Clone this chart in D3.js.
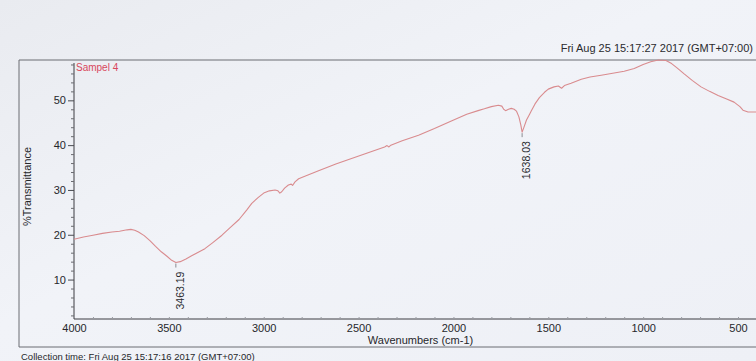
<!DOCTYPE html>
<html>
<head>
<meta charset="utf-8">
<script src="https://cdn.jsdelivr.net/npm/d3@7"></script>
<style>
  html, body { margin: 0; padding: 0; background: #eef0f5; overflow: hidden; }
  svg { display: block; font-family: "Liberation Sans", Arial, sans-serif; }
</style>
</head>
<body>
<div class="container"></div>
<script>
// spectrum (wavenumber cm-1, %T)
const wavenumbers = [4000, 3950, 3900, 3850, 3800, 3760, 3720, 3700, 3680, 3660, 3630, 3600, 3570, 3540, 3510, 3485,
  3463, 3440, 3410, 3380, 3340, 3310, 3270, 3220, 3180, 3130, 3090, 3063, 3030, 3000, 2970, 2940, 2925, 2915, 2905,
  2890, 2870, 2855, 2848, 2835, 2816, 2780, 2711, 2620, 2537, 2450, 2363, 2350, 2340, 2330, 2270, 2184, 2100, 2011,
  1930, 1870, 1837, 1800, 1763, 1745, 1735, 1725, 1710, 1695, 1680, 1668, 1655, 1645, 1638, 1630, 1615, 1600, 1590,
  1570, 1547, 1520, 1500, 1470, 1447, 1430, 1415, 1380, 1326, 1280, 1221, 1153, 1100, 1047, 1000, 960, 920, 880,
  850, 820, 784, 740, 695, 650, 605, 560, 521, 490, 474, 447, 420, 400];
const transmittance = [19.0, 19.5, 19.9, 20.3, 20.6, 20.8, 21.1, 21.2, 21.0, 20.6, 19.8, 18.7, 17.4, 16.2, 15.2, 14.3,
  13.8, 14.0, 14.6, 15.3, 16.2, 16.9, 18.2, 19.9, 21.5, 23.4, 25.5, 27.0, 28.3, 29.3, 29.8, 30.0, 29.8, 29.3, 29.6,
  30.4, 31.1, 31.3, 31.0, 31.8, 32.5, 33.1, 34.3, 35.8, 37.0, 38.3, 39.6, 39.9, 39.6, 40.0, 41.0, 42.2, 43.7, 45.4,
  46.9, 47.7, 48.1, 48.6, 48.9, 48.7, 48.0, 47.7, 48.0, 48.2, 48.0, 47.6, 46.3, 44.5, 42.9, 43.8, 45.6, 46.8, 47.6,
  49.2, 50.6, 51.8, 52.5, 53.0, 53.2, 52.7, 53.3, 53.8, 54.7, 55.2, 55.6, 56.1, 56.5, 57.1, 58.0, 58.6, 59.0, 58.9,
  58.2, 57.2, 55.9, 54.4, 53.0, 52.0, 51.1, 50.3, 49.6, 48.6, 47.8, 47.4, 47.4, 47.4];

const peakWaves = [3463.19, 1638.03];
const peakValues = [13.8, 42.9];

const xTicks = [4000, 3500, 3000, 2500, 2000, 1500, 1000, 500];
const yTicks = [10, 20, 30, 40, 50];

const width = 756;
const height = 361;
const plot = { left: 74, right: 757, top: 60, bottom: 319 };

const svg = d3.select('.container')
  .append('svg')
  .attr('width', width)
  .attr('height', height);

// paper
const grad = svg.append('defs').append('linearGradient')
  .attr('id', 'paper').attr('x1', 0).attr('y1', 0).attr('x2', 1).attr('y2', 1);
grad.append('stop').attr('offset', '0%').attr('stop-color', '#e9ebf0');
grad.append('stop').attr('offset', '45%').attr('stop-color', '#f1f3f8');
grad.append('stop').attr('offset', '100%').attr('stop-color', '#eef0f6');
svg.append('rect').attr('width', width).attr('height', height).attr('fill', 'url(#paper)');

const x = d3.scaleLinear().domain([4000, 400]).range([plot.left, plot.right]);
const y = d3.scaleLinear().domain([1.2, 59]).range([plot.bottom, plot.top]);

// outer frame of the printout
svg.append('path')
  .attr('d', `M${width + 5},60 H19 V347 H${width + 5}`)
  .attr('fill', 'none')
  .attr('stroke', '#6a6c72')
  .attr('stroke-width', 1);

// header date
svg.append('text')
  .attr('x', 753).attr('y', 52)
  .attr('text-anchor', 'end')
  .attr('font-size', 11).attr('fill', '#2a2a2e')
  .text('Fri Aug 25 15:17:27 2017 (GMT+07:00)');

// y axis, major + minor ticks
const yAxis = d3.axisLeft(y).tickValues(yTicks).tickSize(6).tickPadding(2);
const gy = svg.append('g').attr('transform', `translate(${plot.left},0)`).call(yAxis);
gy.select('.domain').attr('d', `M0,${plot.top + 3}V${plot.bottom}`).attr('stroke', '#3c3d42');
gy.selectAll('.tick line').attr('stroke', '#4a4b50');
gy.selectAll('.tick text').attr('font-size', 11).attr('fill', '#26272b').attr('font-family', '"Liberation Sans", Arial, sans-serif');
const gyMinor = svg.append('g').attr('transform', `translate(${plot.left},0)`)
  .call(d3.axisLeft(y).tickValues(d3.range(2, 59, 2).filter(v => v % 10 !== 0)).tickSize(3).tickFormat(''));
gyMinor.select('.domain').remove();
gyMinor.selectAll('.tick line').attr('stroke', '#6a6b70');

// x axis
const xAxis = d3.axisBottom(x).tickValues(xTicks).tickFormat(d3.format('d')).tickSize(0).tickPadding(5);
const gx = svg.append('g').attr('transform', `translate(0,${plot.bottom})`).call(xAxis);
gx.select('.domain').attr('d', `M${plot.left},0H${width + 5}`).attr('stroke', '#3c3d42');
gx.selectAll('.tick text').attr('font-size', 11).attr('fill', '#26272b').attr('font-family', '"Liberation Sans", Arial, sans-serif');
const gxMinor = svg.append('g').attr('transform', `translate(0,${plot.bottom})`)
  .call(d3.axisTop(x).tickValues(d3.range(3900, 400, -100)).tickSize(2).tickFormat(''));
gxMinor.select('.domain').remove();
gxMinor.selectAll('.tick line').attr('stroke', '#9a9ca2');

// axis titles
svg.append('text')
  .attr('x', (plot.left + plot.right) / 2 + 5).attr('y', 344)
  .attr('text-anchor', 'middle').attr('font-size', 11).attr('fill', '#26272b')
  .text('Wavenumbers (cm-1)');

svg.append('text')
  .attr('transform', `translate(31,${(plot.top + plot.bottom) / 2 - 3}) rotate(-90)`)
  .attr('text-anchor', 'middle').attr('font-size', 11).attr('fill', '#26272b')
  .text('%Transmittance');

svg.append('text')
  .attr('x', 21).attr('y', 360)
  .attr('font-size', 9.5).attr('fill', '#26272b')
  .text('Collection time: Fri Aug 25 15:17:16 2017 (GMT+07:00)');

// sample name
svg.append('text')
  .attr('x', plot.left + 2).attr('y', 71)
  .attr('font-size', 10).attr('fill', '#d9475c')
  .text('Sampel 4');

// spectrum
const spectrum = wavenumbers.map((w, i) => ({ w, t: transmittance[i] }));
const line = d3.line().x(d => x(d.w)).y(d => y(d.t));
svg.append('path')
  .datum(spectrum)
  .attr('d', line)
  .attr('fill', 'none')
  .attr('stroke', '#d98b8e')
  .attr('stroke-width', 1.1)
  .attr('stroke-linejoin', 'round');

// peak labels
peakWaves.forEach((w, i) => {
  const px = x(w);
  const py = y(peakValues[i]);
  svg.append('line')
    .attr('x1', px).attr('x2', px).attr('y1', py + 1).attr('y2', py + 5)
    .attr('stroke', '#8a8b90');
  svg.append('text')
    .attr('transform', `translate(${px + 4},${py + 47}) rotate(-90)`)
    .attr('dy', '0.35em')
    .attr('font-size', 10.5).attr('fill', '#2a2b30')
    .text(w.toFixed(2));
});
</script>
</body>
</html>
